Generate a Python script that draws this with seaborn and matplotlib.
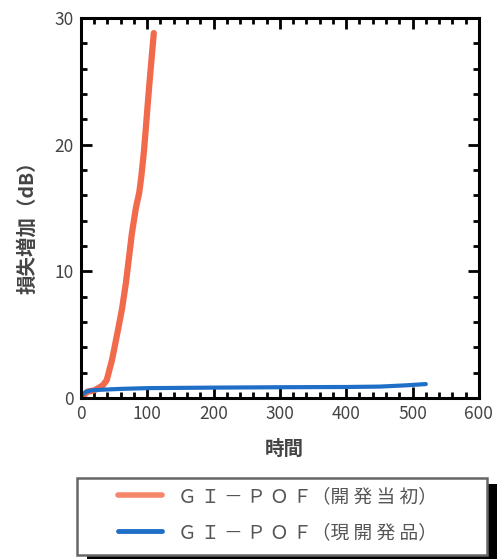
import numpy as np
import pandas as pd
import matplotlib
matplotlib.use("Agg")
import matplotlib.pyplot as plt
from matplotlib.patches import Rectangle
from matplotlib.ticker import MultipleLocator
import seaborn as sns

# data
early_t = [0, 10, 20, 27, 33, 39, 47, 55, 62, 68, 77, 83, 88, 91, 95, 98, 101, 104, 107, 110]
early_loss = [0.0, 0.5, 0.6, 0.8, 1.0, 1.4, 3.0, 5.1, 7.0, 9.1, 13.0, 15.0, 16.2, 17.4, 19.4, 21.3, 23.3, 25.2, 27.0, 28.8]
now_t = [0, 3, 8, 15, 30, 60, 100, 200, 300, 400, 450, 490, 520]
now_loss = [0.0, 0.3, 0.5, 0.6, 0.65, 0.72, 0.78, 0.82, 0.85, 0.87, 0.9, 1.0, 1.1]
labels = ["Ｇ Ｉ － Ｐ Ｏ Ｆ（開 発 当 初）", "Ｇ Ｉ － Ｐ Ｏ Ｆ（現 開 発 品）"]
colors = ["#f26a4c", "#1f6ec8"]

df = pd.concat([
    pd.DataFrame({"t": early_t, "loss": early_loss, "series": labels[0]}),
    pd.DataFrame({"t": now_t, "loss": now_loss, "series": labels[1]}),
])

sns.set_style("ticks")
plt.rcParams['font.family'] = ['Noto Sans CJK JP', 'DejaVu Sans']

fig = plt.figure(figsize=(5.02, 5.59), dpi=100)
ax = fig.add_axes([0.161, 0.288, 0.793, 0.680])

sns.lineplot(data=df, x="t", y="loss", hue="series", palette=colors,
             sort=False, estimator=None, ax=ax, legend=False)
ax.lines[0].set_linewidth(4.5)
ax.lines[1].set_linewidth(3)

ax.set_xlim(0, 600)
ax.set_ylim(0, 30)
ax.xaxis.set_major_locator(MultipleLocator(100))
ax.xaxis.set_minor_locator(MultipleLocator(20))
ax.yaxis.set_major_locator(MultipleLocator(10))
ax.yaxis.set_minor_locator(MultipleLocator(2))
ax.tick_params(which='both', direction='in', top=True, right=True,
               color='black', width=2)
ax.tick_params(which='major', length=8, labelsize=12.5, labelcolor='#444444', pad=5)
ax.tick_params(which='minor', length=4)
for s in ax.spines.values():
    s.set_linewidth(2.2)
    s.set_color('black')

ax.set_xlabel("時間", fontsize=14, color='#444444', fontweight='bold')
ax.xaxis.set_label_coords(0.51, -0.11)
ax.set_ylabel("損失増加（dB）", fontsize=14, color='#444444', fontweight='bold')
ax.yaxis.set_label_coords(-0.11, 0.46)

# legend frame with a solid shadow
fig.patches.append(Rectangle((0.1733, -0.004), 0.8167, 0.138, transform=fig.transFigure,
                             facecolor='black', edgecolor='none', zorder=0))
fig.patches.append(Rectangle((0.1534, 0.0072), 0.8166, 0.1377, transform=fig.transFigure,
                             facecolor='white', edgecolor='#666666', linewidth=1.8, zorder=1))

handles = ax.lines[:2]
leg = fig.legend(handles, labels, loc='upper left',
                 bbox_to_anchor=(0.235, 0.131), frameon=False, fontsize=13.5,
                 handlelength=2.35, handletextpad=0.85, borderpad=0,
                 labelspacing=0.8, borderaxespad=0)
leg.legend_handles[0].set_color('#f5866a')
leg.legend_handles[0].set_linewidth(4)
leg.legend_handles[1].set_linewidth(3.5)
for t in leg.get_texts():
    t.set_color('#555555')

fig.savefig("out.png", dpi=100)
